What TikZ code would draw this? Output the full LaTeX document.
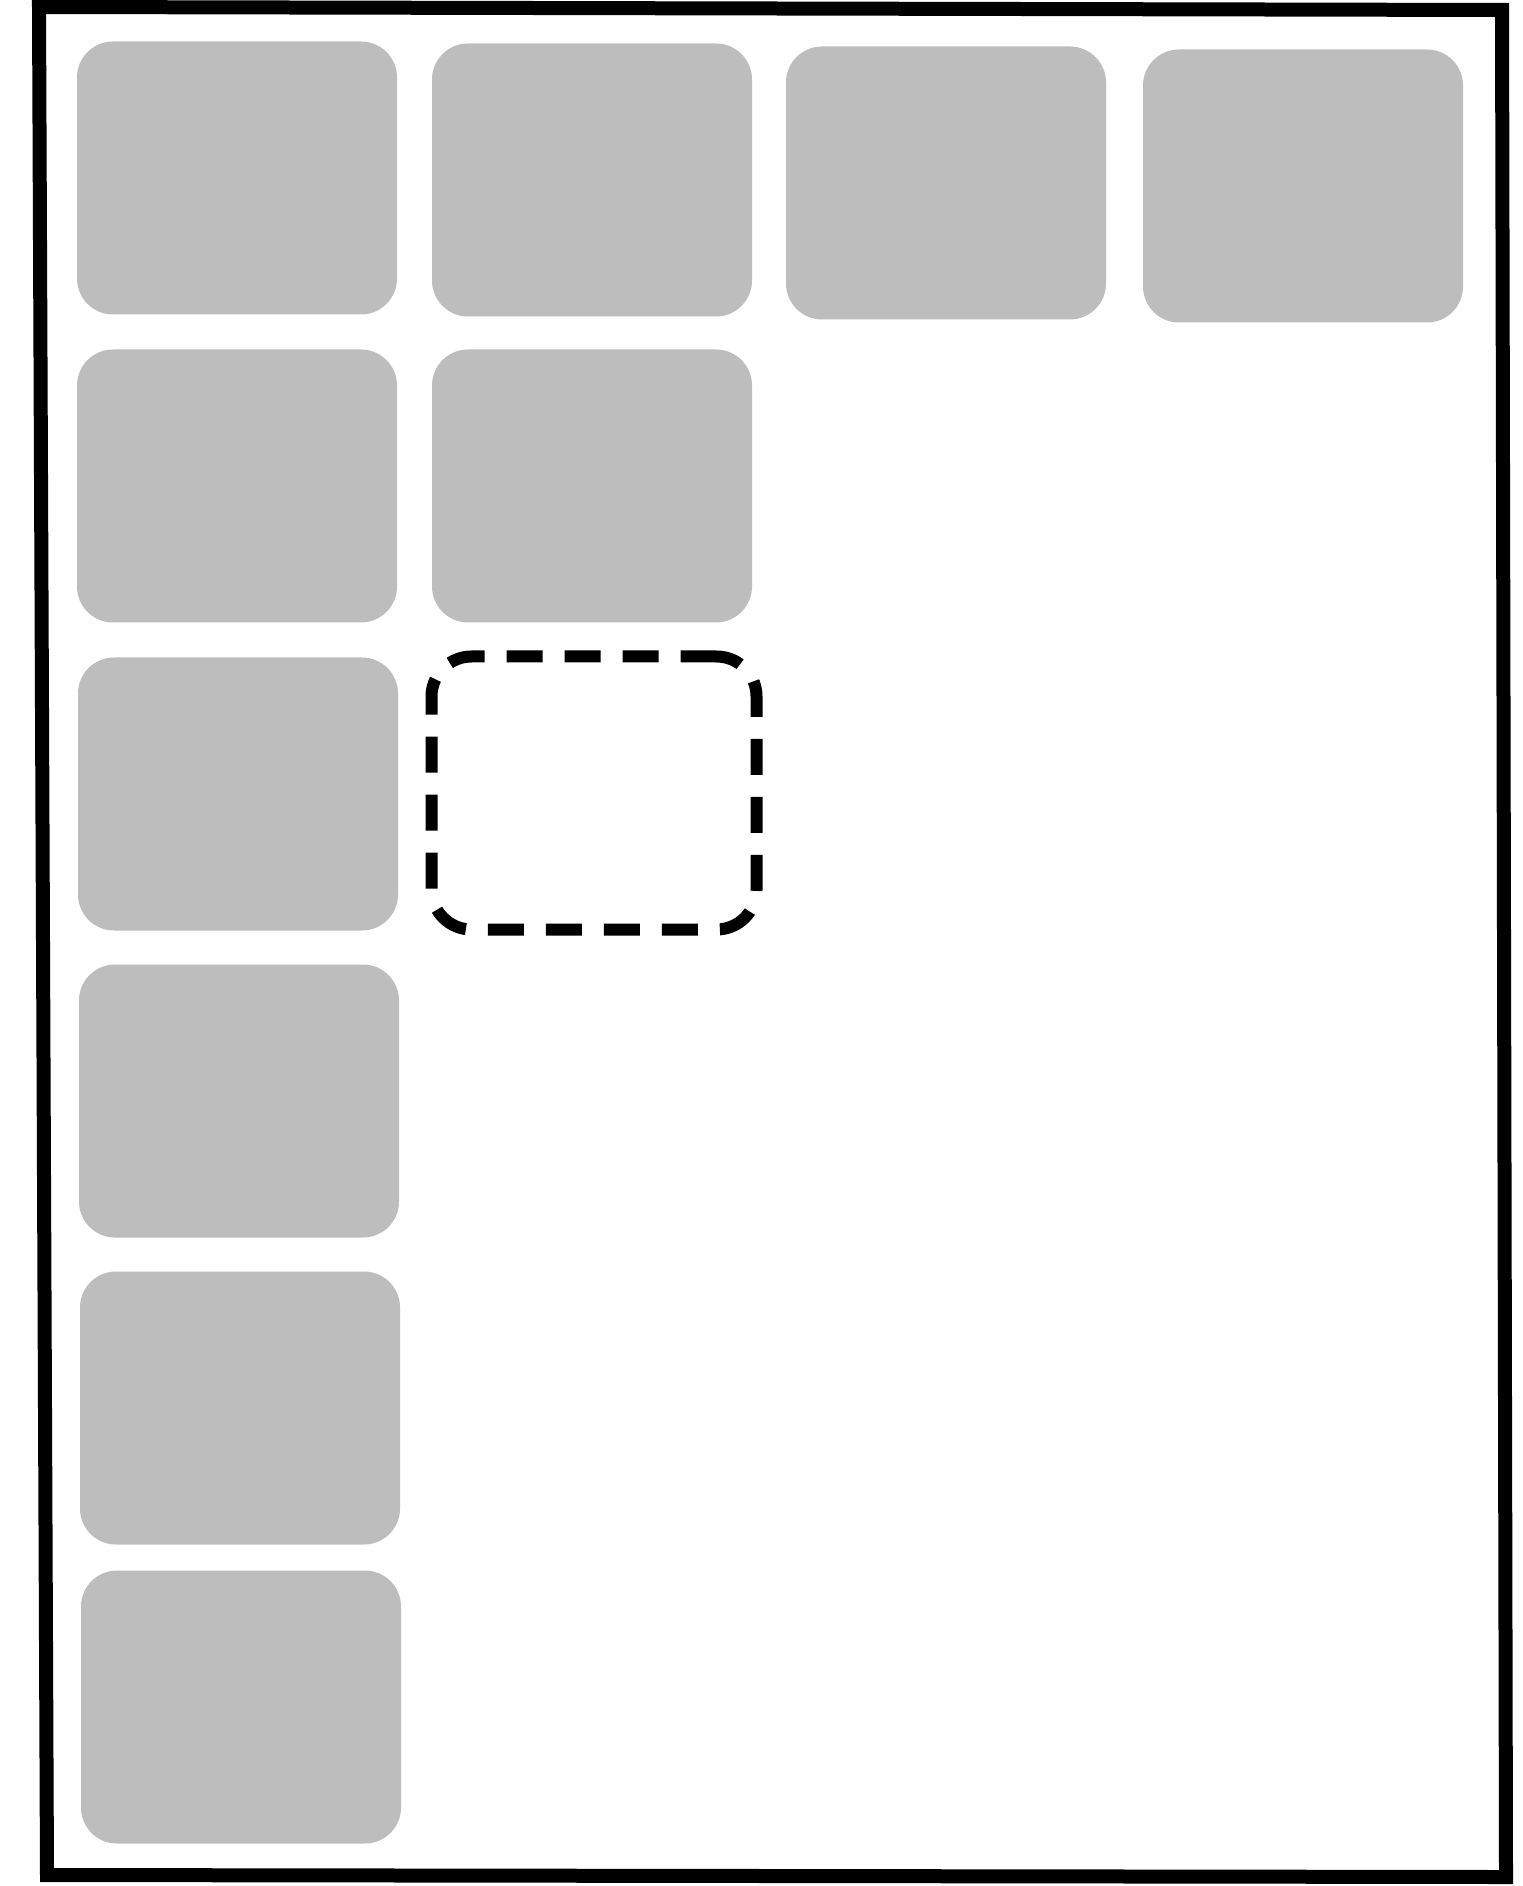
\documentclass[tikz,border=0pt]{standalone}
\usepackage{tikz}
\usetikzlibrary{positioning}

\tikzset{
  tile/.style={fill=black!26, draw=none, rounded corners=0.36cm, minimum width=3.2cm, minimum height=2.73cm, inner sep=0pt},
  gaptile/.style={draw=black, line width=0.12cm, dash pattern=on 0.36cm off 0.22cm, rounded corners=0.4cm, minimum width=3.25cm, minimum height=2.73cm, inner sep=0pt}
}

\begin{document}
\begin{tikzpicture}
\useasboundingbox (0,0) rectangle (15.22,-18.86);
% Frame
\draw[line width=0.14cm, line join=miter] (0.39,-0.07) -- (15.02,-0.10) -- (15.06,-18.77) -- (0.47,-18.75) -- cycle;

% Top row
\node[tile] (r1c1) at (2.37,-1.78) {}; \node[tile] (r1c2) at (5.92,-1.80) {}; \node[tile] (r1c3) at (9.46,-1.83) {}; \node[tile] (r1c4) at (13.03,-1.86) {};
% Second row
\node[tile] (r2c1) at (2.37,-4.86) {}; \node[tile] (r2c2) at (5.92,-4.86) {};
% Third row, empty slot
\node[tile] (r3c1) at (2.38,-7.94) {}; \node[gaptile] (r3c2) at (5.94,-7.93) {};
% Remaining rows
\node[tile] (r4c1) at (2.39,-11.01) {};
\node[tile] (r5c1) at (2.40,-14.08) {};
\node[tile] (r6c1) at (2.41,-17.07) {};
\end{tikzpicture}
\end{document}
